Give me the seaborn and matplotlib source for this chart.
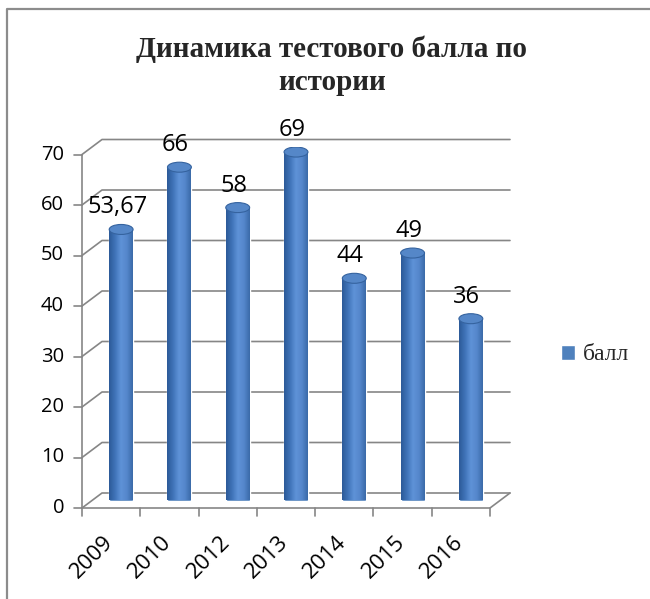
import numpy as np
import seaborn as sns
import matplotlib.pyplot as plt
from matplotlib.patches import Ellipse, Patch
from matplotlib.lines import Line2D
from matplotlib.colors import LinearSegmentedColormap

years = ['2009', '2010', '2012', '2013', '2014', '2015', '2016']
scores = [53.67, 66, 58, 69, 44, 49, 36]
y_ticks = [0, 10, 20, 30, 40, 50, 60, 70]
series_name = 'балл'
title_lines = ['Динамика тестового балла по', 'истории']

sns.set_style('white')
plt.rcParams['font.family'] = ['Open Sans', 'DejaVu Sans']

fig = plt.figure(figsize=(6.5, 5.99), dpi=100)
# axes = middle depth plane of the fake 3D box
ax = fig.add_axes([92 / 650, (599 - 500.5) / 599, 408 / 650, 353.5 / 599])

bar_w = 0.41
sns.barplot(x=years, y=scores, ax=ax, color='#4F81BD', width=bar_w,
            saturation=1, zorder=3)
ax.set_xlim(-0.5, 6.5)
ax.set_ylim(0, 70)
ax.axis('off')

# pixel -> data unit conversions
px_x = 408 / 7
px_y = 353.5 / 70
ofx, ofy = 10 / px_x, 7.5 / px_y
xl_f, xl_b = -0.5 - ofx, -0.5 + ofx
xr_f, xr_b = 6.5 - ofx, 6.5 + ofx
grid_c = '#868686'
kw = dict(color=grid_c, lw=1.2, clip_on=False, zorder=1)

# back wall gridlines with the left-side diagonals
for v in y_ticks:
    ax.plot([xl_f, xl_b, xr_b], [v - ofy, v + ofy, v + ofy], **kw)
    ax.plot([xl_f - 8 / px_x, xl_f], [v - ofy, v - ofy], **kw)
    ax.text(xl_f - 18 / px_x, v - ofy, str(v), ha='right', va='center',
            fontsize=14.5, color='black')

# front axis and floor edge
ax.plot([xl_f, xl_f], [-ofy, 70 - ofy], **kw)
ax.plot([xl_f, xr_f, xr_b], [-ofy, -ofy, ofy], **kw)
for k in range(len(years) + 1):
    xx = -0.5 + k - ofx
    ax.plot([xx, xx], [-ofy, -ofy - 8 / px_y], **kw)

for i, yr in enumerate(years):
    ax.text(i - ofx - 19 / px_x, -ofy - 24 / px_y, yr, rotation=45, ha='center',
            va='top', fontsize=16, color='black', clip_on=False)

# cylinder shading
cmap = LinearSegmentedColormap.from_list(
    'cyl', ['#2c5a98', '#3f73b8', '#5f93d8', '#5587cc', '#3a6aa8'])
grad = np.linspace(0, 1, 128).reshape(1, -1)
ell_h = 10 / px_y
for i, (p, v) in enumerate(zip(ax.patches, scores)):
    x0 = p.get_x()
    x1 = x0 + p.get_width()
    xc = x0 + p.get_width() / 2
    bottom = Ellipse((xc, 0), bar_w, ell_h, transform=ax.transData)
    ax.add_patch(bottom)
    bottom.set_visible(False)
    for clip in (p, bottom):
        im = ax.imshow(grad, cmap=cmap, aspect='auto', extent=[x0, x1, -ell_h, v],
                       zorder=3.5, interpolation='bilinear')
        im.set_clip_path(clip)
    top = Ellipse((xc, v), bar_w, ell_h, facecolor='#5587c8', edgecolor='#35639f',
                  lw=0.8, zorder=4)
    ax.add_patch(top)
    label = f'{v:g}'.replace('.', ',')
    ax.annotate(label, (xc, v), xytext=(-4, 10), textcoords='offset pixels',
                ha='center', va='bottom', fontsize=17, color='black')

ax.set_xlim(-0.5, 6.5)
ax.set_ylim(0, 70)

# title
fig.text(332 / 650, 1 - 57 / 599, title_lines[0], ha='center', va='baseline',
         fontsize=21, fontweight='bold', family='Liberation Serif')
fig.text(332 / 650, 1 - 90 / 599, title_lines[1], ha='center', va='baseline',
         fontsize=21, fontweight='bold', family='Liberation Serif')

# legend
fig.legend(handles=[Patch(facecolor='#4F81BD', label=series_name)],
           loc='center left', bbox_to_anchor=(540 / 650, 1 - 355 / 599),
           frameon=False, handlelength=0.6, handleheight=0.6, handletextpad=0.3,
           prop={'family': 'Liberation Serif', 'size': 17})

# chart border (left and top)
fig.add_artist(Line2D([7 / 650, 7 / 650, 1], [0, 1 - 9 / 599, 1 - 9 / 599],
                      transform=fig.transFigure, color='#8c8c8c', lw=1.6))

fig.savefig('out.png', dpi=100)
